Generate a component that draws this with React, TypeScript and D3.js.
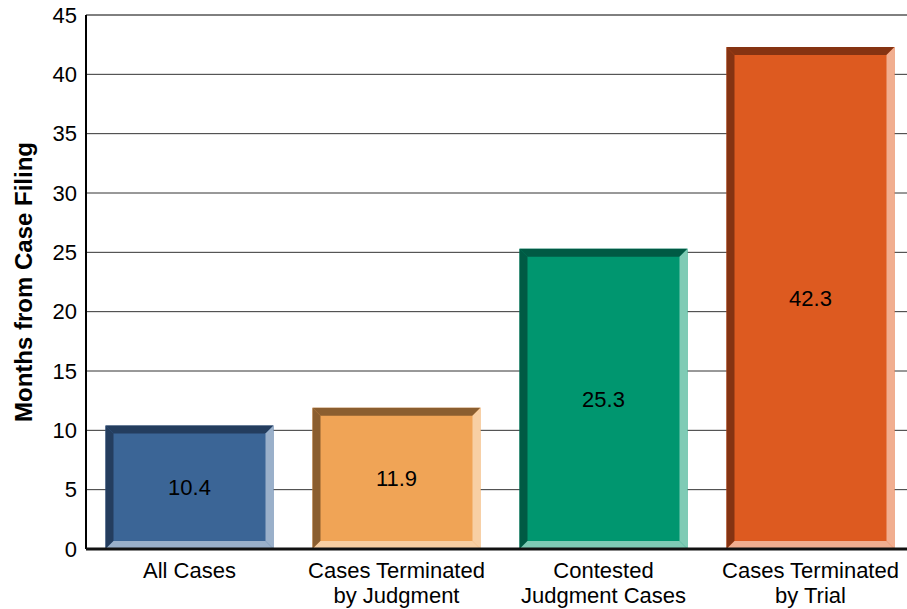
import * as d3 from 'd3'

const categories = [
  ['All Cases'],
  ['Cases Terminated', 'by Judgment'],
  ['Contested', 'Judgment Cases'],
  ['Cases Terminated', 'by Trial'],
]
const values = [10.4, 11.9, 25.3, 42.3]
const yTicks = [0, 5, 10, 15, 20, 25, 30, 35, 40, 45]
const yTitle = 'Months from Case Filing'

const mainColors = ['#3B6596', '#F0A456', '#00966F', '#DD5A20']
const darkColors = ['#243D5E', '#8B5E2F', '#005A44', '#853312']
const lightColors = ['#9AB0CA', '#F8CFA3', '#7FCBB5', '#F1AE90']

const W = 907
const H = 609
const margin = { top: 15, left: 86, bottom: 60 }
const font = 'Arial, "Liberation Sans", sans-serif'

export default function App() {
  const y = d3.scaleLinear().domain([0, 45]).range([H - margin.bottom, margin.top])
  const x = d3
    .scaleBand<number>()
    .domain(d3.range(categories.length))
    .range([margin.left, margin.left + 4 * 207])
    .paddingInner(39 / 207)
    .paddingOuter(39 / 414)
  const b = 8

  return (
    <svg width={W} height={H} style={{ position: 'absolute', left: 0, top: 0, background: '#fff' }}>
      {yTicks.map((t) => (
        <g key={t}>
          <line
            x1={margin.left}
            x2={W}
            y1={y(t)}
            y2={y(t)}
            stroke={t === 45 ? '#000' : '#333'}
            strokeWidth={1}
          />
          <text
            x={margin.left - 9}
            y={y(t)}
            dy="0.35em"
            textAnchor="end"
            fontFamily={font}
            fontSize={22}
            fill="#000"
          >
            {t}
          </text>
        </g>
      ))}
      <line x1={margin.left} x2={margin.left} y1={margin.top} y2={y(0)} stroke="#000" strokeWidth={2} />
      {values.map((v, i) => {
        const x0 = x(i)!
        const x1 = x0 + x.bandwidth()
        const y0 = y(v)
        const y1 = y(0)
        return (
          <g key={i}>
            <rect x={x0} y={y0} width={x1 - x0} height={y1 - y0} fill={mainColors[i]} />
            <polygon
              points={`${x0},${y0} ${x1},${y0} ${x1 - b},${y0 + b} ${x0 + b},${y0 + b}`}
              fill={darkColors[i]}
            />
            <polygon
              points={`${x0},${y0} ${x0 + b},${y0 + b} ${x0 + b},${y1 - b} ${x0},${y1}`}
              fill={darkColors[i]}
            />
            <polygon
              points={`${x1},${y0} ${x1},${y1} ${x1 - b},${y1 - b} ${x1 - b},${y0 + b}`}
              fill={lightColors[i]}
            />
            <polygon
              points={`${x0},${y1} ${x1},${y1} ${x1 - b},${y1 - b} ${x0 + b},${y1 - b}`}
              fill={lightColors[i]}
            />
            <text
              x={(x0 + x1) / 2}
              y={(y0 + y1) / 2}
              dy="0.35em"
              textAnchor="middle"
              fontFamily={font}
              fontSize={22}
              fill="#000"
            >
              {v.toFixed(1)}
            </text>
            {categories[i].map((line, k) => (
              <text
                key={k}
                x={(x0 + x1) / 2}
                y={y1 + 21 + k * 25.5}
                dy="0.35em"
                textAnchor="middle"
                fontFamily={font}
                fontSize={22}
                fill="#000"
              >
                {line}
              </text>
            ))}
          </g>
        )
      })}
      <line x1={margin.left} x2={W} y1={y(0)} y2={y(0)} stroke="#111" strokeWidth={3} />
      <text
        transform={`translate(24,${(margin.top + y(0)) / 2}) rotate(-90)`}
        dy="0.35em"
        textAnchor="middle"
        fontFamily={font}
        fontSize={24}
        fontWeight="bold"
        fill="#000"
      >
        {yTitle}
      </text>
    </svg>
  )
}
